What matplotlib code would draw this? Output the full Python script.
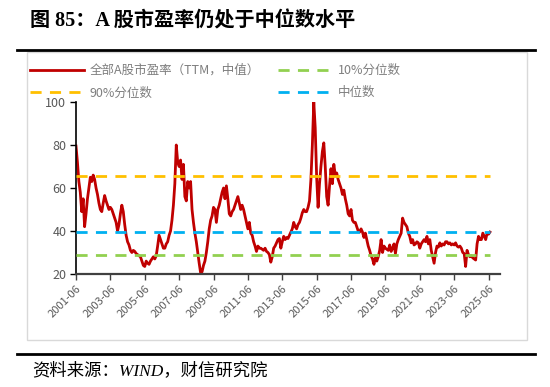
import matplotlib
matplotlib.use("Agg")
from matplotlib import pyplot as plt
from matplotlib.patches import Rectangle
from matplotlib.lines import Line2D
import numpy as np

plt.rcParams['font.family'] = ['Noto Sans CJK SC', 'DejaVu Sans']

# monthly median PE (TTM) of all A shares, 2001-06 .. 2025-07
pe_median = [
    79.5, 72, 63, 58, 49, 55, 42, 48, 55, 60, 65, 63, 66, 64, 60, 57, 53, 50, 49, 53,
    56.5, 54, 52, 50, 51, 50, 48, 46, 44, 40, 43, 48, 52, 49, 43, 38, 35, 33.5, 31, 30,
    31, 30.5, 29.5, 29, 28.5, 28, 26, 24, 23.5, 26, 25, 24.5, 26, 27, 28, 27, 28.5, 33, 38, 36,
    34, 32, 32, 34, 35, 38, 40, 45, 52, 62, 80, 72, 70, 73, 64, 71, 56, 54, 63, 60,
    63, 50, 44, 39, 35, 30, 25, 20.5, 21, 24, 26, 30, 35, 41, 45, 47, 51, 50, 44, 50,
    52, 55, 58, 60, 55, 61, 55, 48, 47, 49, 50, 52, 54, 56, 53, 50, 52, 50, 47, 44,
    41, 44, 39, 38, 35, 33, 30.5, 33, 32, 32, 31.5, 31, 32, 30.5, 30, 29, 25.5, 28, 32, 33,
    34.5, 36, 36.5, 32, 35, 37.5, 36, 37, 36.5, 38, 39.5, 41, 44, 42, 41, 43, 44, 46, 48.5, 50,
    49, 49, 51, 54, 64, 80, 100, 88, 65, 51, 62, 70, 77, 81, 70, 56, 52, 61, 69, 62,
    71, 66, 67, 64, 62, 60, 57, 59, 55, 52, 48, 47, 50, 45, 44, 44, 42, 40, 39.5, 41,
    39.5, 37, 39, 36, 33, 31, 28.5, 27, 24.5, 27.5, 26, 28, 31, 36, 30, 33, 32, 31.5, 31, 33.5,
    30.5, 32, 34, 29.5, 34, 36, 37.5, 39, 46, 44, 43, 42, 39, 37.5, 34.5, 36, 33.5, 34, 35, 34.5,
    32, 34, 35, 36, 35, 37.5, 34, 36, 31, 28, 25, 30, 33, 32.5, 34.5, 33, 34, 33.5, 35, 35,
    34, 34.5, 33.5, 34, 33.5, 34.5, 33, 32.5, 33, 32, 30, 29.5, 23.5, 31, 29, 28, 28.5, 27.5, 27, 26.5,
    34, 37.5, 36, 36, 39, 37.5, 36, 39, 38.5, 39.5,
]
p90 = 65.8
p50 = 39.7
p10 = 28.9
tick_labels = ["2001-06", "2003-06", "2005-06", "2007-06", "2009-06", "2011-06", "2013-06",
               "2015-06", "2017-06", "2019-06", "2021-06", "2023-06", "2025-06"]

RED = "#C00000"
ORANGE = "#FFC000"
GREEN = "#92D050"
BLUE = "#00B0F0"
GRAY = "#595959"

W, H = 550, 387
fig = plt.figure(figsize=(W / 100, H / 100), dpi=100)
ax = fig.add_axes([76 / W, 1 - 274 / H, (500 - 76) / W, (274 - 102) / H])

months = np.arange(len(pe_median))
n = len(pe_median)

l_pe, = ax.plot(months, pe_median, color=RED, lw=2.0, zorder=2,
                label="全部A股市盈率（TTM，中值）")
dash = (0, (4, 3))
l90, = ax.plot(months, [p90] * n, color=ORANGE, lw=2, ls=dash, zorder=3, label="90%分位数")
l10, = ax.plot(months, [p10] * n, color=GREEN, lw=2, ls=dash, zorder=3, label="10%分位数")
l50, = ax.plot(months, [p50] * n, color=BLUE, lw=2, ls=dash, zorder=3, label="中位数")

ax.set_xlim(0, 296)
ax.set_ylim(20, 100)
ax.set_yticks([20, 40, 60, 80, 100])
ax.set_xticks(np.arange(0, 24 * len(tick_labels), 24))
ax.set_xticklabels(tick_labels, rotation=45, ha="right", rotation_mode="anchor")

for s in ["top", "right"]:
    ax.spines[s].set_visible(False)
ax.spines["left"].set_color("black")
ax.spines["left"].set_linewidth(1.2)
ax.spines["bottom"].set_color("#404040")
ax.spines["bottom"].set_linewidth(1.6)
ax.tick_params(axis="y", direction="out", length=4, width=1, colors="black",
               labelcolor=GRAY, labelsize=9, pad=3)
ax.tick_params(axis="x", direction="out", length=4, width=1, colors="#404040",
               labelcolor=GRAY, labelsize=8, pad=3)

fig.legend(handles=[l_pe, l90, l10, l50], ncol=2, loc="upper left",
           bbox_to_anchor=(30 / W, 1 - 64 / H), frameon=False, fontsize=9,
           labelcolor="#7F7F7F", handlelength=4.3, handletextpad=0.5,
           columnspacing=1.4, labelspacing=0.75, borderaxespad=0, borderpad=0)

# chart frame and report decorations
fig.add_artist(Rectangle((27 / W, 1 - 340 / H), 500 / W, 288 / H, transform=fig.transFigure,
                         fill=False, ec="#D9D9D9", lw=1))
fig.add_artist(Line2D([17 / W, 535 / W], [1 - 50 / H] * 2, color="black", lw=2))
fig.add_artist(Line2D([17 / W, 535 / W], [1 - 354 / H] * 2, color="black", lw=2))

fig.text(30 / W, 1 - 21 / H, "图 85：A 股市盈率仍处于中位数水平", fontsize=14.5,
         fontweight="bold", va="center", ha="left",
         family=["Liberation Serif", "Noto Sans CJK SC"])
fig.text(32 / W, 1 - 371 / H, "资料来源：WIND，财信研究院", fontsize=12.5,
         style="italic", va="center", ha="left",
         family=["Liberation Serif", "Noto Sans CJK SC"])

fig.savefig("out.png", dpi=100)
